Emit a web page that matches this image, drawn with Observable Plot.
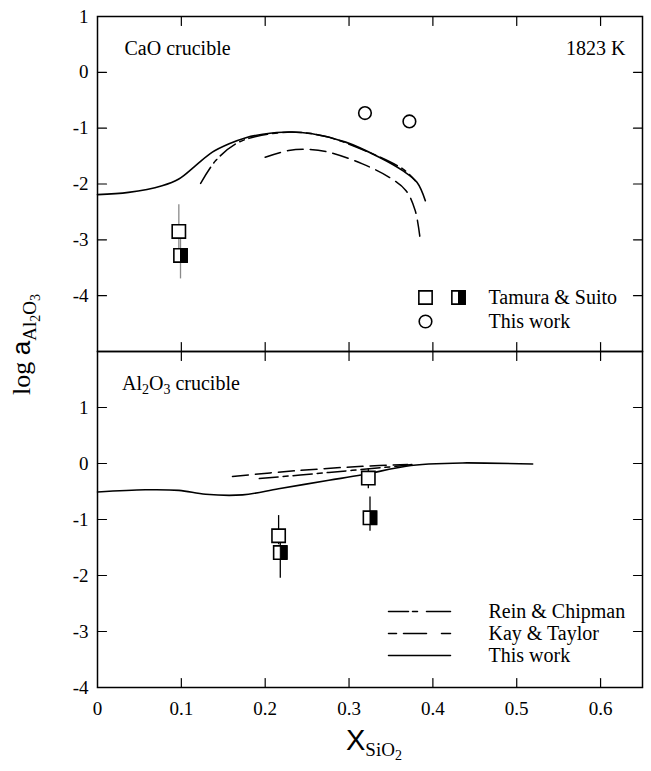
<!DOCTYPE html>
<html><head><meta charset="utf-8">
<script src="https://cdn.jsdelivr.net/npm/d3@7"></script>
<script src="https://cdn.jsdelivr.net/npm/@observablehq/plot@0.6"></script>
<style>
body{margin:0;background:#fff;}
#wrap{position:relative;width:651px;height:771px;overflow:hidden;background:#fff;font-family:'Liberation Serif','Times New Roman',serif;color:#000;}
#top,#bot{position:absolute;left:0;}
#top{top:0;}
#bot{top:351px;}
.ann{position:absolute;white-space:nowrap;line-height:1;}
#ylab{left:8px;top:395px;transform-origin:0 0;transform:rotate(-90deg);font-size:26px;}
#ylab .a{font-family:Arial,'Liberation Sans',sans-serif;font-size:26px;}
#ylab .s{font-size:19px;position:relative;top:6px;}
#ylab .d{font-size:14px;position:relative;top:4px;}
#xlab{left:346px;top:726px;font-size:19px;}
#xlab .X{font-family:Arial,'Liberation Sans',sans-serif;font-size:29px;}
#xlab .s{position:relative;top:6px;}
#xlab .d{font-size:14px;position:relative;top:4px;}
#altxt{left:122px;top:373px;font-size:20px;}
#altxt .d{font-size:14px;position:relative;top:4px;}
</style></head><body>
<div id="wrap">
<div id="top"></div><div id="bot"></div>
<div id="ylab" class="ann">log <span class="a">a</span><span class="s">Al<span class="d">2</span>O<span class="d">3</span></span></div>
<div id="xlab" class="ann"><span class="X">X</span><span class="s">SiO<span class="d">2</span></span></div>
<div id="altxt" class="ann">Al<span class="d">2</span>O<span class="d">3</span> crucible</div>
</div>
<script>
const xTicks = [0, 0.1, 0.2, 0.3, 0.4, 0.5, 0.6];
const yTickLabels = [1, 0, -1, -2, -3, -4];
const topYGrid = [1, 0, -1, -2, -3, -4, -5];
const botYGrid = [2, 1, 0, -1, -2, -3, -4];

// ---- CaO crucible (top) ----
const caoModelX = [0, 0.037, 0.077, 0.097, 0.117, 0.137, 0.157, 0.177, 0.197, 0.228, 0.256, 0.296, 0.336, 0.364, 0.381, 0.391];
const caoModelY = [-2.19, -2.15, -2.03, -1.91, -1.67, -1.43, -1.28, -1.17, -1.11, -1.07, -1.10, -1.25, -1.52, -1.76, -1.97, -2.30];
const caoReinX = [0.123, 0.141, 0.165, 0.189, 0.232, 0.27, 0.304, 0.364, 0.379];
const caoReinY = [-1.99, -1.58, -1.28, -1.15, -1.07, -1.14, -1.31, -1.73, -1.94];
const caoKayX = [0.200, 0.228, 0.252, 0.276, 0.316, 0.348, 0.368, 0.379, 0.385];
const caoKayY = [-1.52, -1.40, -1.38, -1.43, -1.64, -1.88, -2.12, -2.48, -3.01];
const caoThisWorkX = [0.319, 0.372];
const caoThisWorkY = [-0.73, -0.88];
const caoTSX = [0.097, 0.099];
const caoTSY = [-2.85, -3.28];
const caoTSHi = [-2.37, -2.95];
const caoTSLo = [-3.25, -3.70];
const caoTSKind = ["open", "half"];

// ---- Al2O3 crucible (bottom) ----
const alModelX = [0, 0.057, 0.097, 0.129, 0.173, 0.216, 0.276, 0.316, 0.368, 0.395, 0.435, 0.519];
const alModelY = [-0.51, -0.47, -0.48, -0.55, -0.56, -0.45, -0.30, -0.20, -0.05, -0.01, 0.01, -0.01];
const alKayX = [0.161, 0.236, 0.316, 0.37];
const alKayY = [-0.23, -0.13, -0.05, -0.02];
const alReinX = [0.193, 0.276, 0.356, 0.375];
const alReinY = [-0.27, -0.16, -0.05, -0.02];
const alTSX = [0.216, 0.218, 0.323, 0.325];
const alTSY = [-1.29, -1.59, -0.26, -0.97];
const alTSHi = [-0.93, -1.35, -0.10, -0.60];
const alTSLo = [-1.45, -2.05, -0.45, -1.21];
const alTSKind = ["open", "half", "open", "half"];

const FONT = "'Liberation Serif','Times New Roman',serif";
const pts = (xs, ys) => xs.map((x, i) => ({x, y: ys[i]}));
const tsRows = (xs, ys, hi, lo, kind) => xs.map((x, i) => ({x, y: ys[i], hi: hi[i], lo: lo[i], kind: kind[i]}));

const lineShape = {draw(ctx, l) { ctx.moveTo(0, 0); ctx.lineTo(0, -l); }};
const rightHalf = {draw(ctx, size) { const w = Math.sqrt(size) / 2; ctx.moveTo(0, -w); ctx.lineTo(w, -w); ctx.lineTo(w, w); ctx.lineTo(0, w); ctx.closePath(); }};
const SQ_R = 7.5;
const DASHDOT = "19,5,5,5";
const DASH = "16,7";

function frameTicks(xd, yd, yGrid) {
  const c = {length: 9, anchor: "start", shape: lineShape, stroke: "black", strokeWidth: 1.2};
  const xt = xTicks.filter(d => d > xd[0]);
  return [
    Plot.vector(xt, {x: d => d, y: yd[0], rotate: 0, ...c}),
    Plot.vector(xt, {x: d => d, y: yd[1], rotate: 180, ...c}),
    Plot.vector(yGrid, {x: xd[0], y: d => d, rotate: 90, ...c}),
    Plot.vector(yGrid, {x: xd[1], y: d => d, rotate: 270, ...c})
  ];
}
function tsMarks(rows, barColor) {
  return [
    Plot.ruleX(rows, {x: "x", y1: "hi", y2: "lo", stroke: barColor, strokeWidth: 1.3}),
    Plot.dot(rows, {x: "x", y: "y", symbol: "square", r: SQ_R, fill: "white", stroke: "black", strokeWidth: 1.6}),
    Plot.dot(rows.filter(d => d.kind === "half"), {x: "x", y: "y", symbol: rightHalf, r: SQ_R, fill: "black", stroke: "black", strokeWidth: 1})
  ];
}
const legText = (s, dx, dy) => Plot.text([s], {text: d => d, frameAnchor: "top-left", dx, dy, textAnchor: "start", lineAnchor: "middle", fontSize: 20});
const legLine = (dash, dx, dy) => Plot.vector([0], {frameAnchor: "top-left", dx, dy, rotate: 90, length: 62, anchor: "start", shape: lineShape, stroke: "black", strokeWidth: 1.5, strokeDasharray: dash});

const xDomain = [0, 0.65];
const topY = [-5, 1];
const botY = [-4, 2];
const fmt = d => String(d);

const topPlot = Plot.plot({
  width: 651, height: 351,
  marginLeft: 97, marginRight: 9, marginTop: 16, marginBottom: 0,
  style: {fontFamily: FONT, fontSize: "19px", overflow: "visible", background: "transparent"},
  x: {domain: xDomain},
  y: {domain: topY},
  marks: [
    Plot.axisY(yTickLabels, {tickSize: 0, tickPadding: 9, tickFormat: fmt, label: null}),
    Plot.axisX([], {label: null}),
    Plot.line(pts(caoModelX, caoModelY), {x: "x", y: "y", curve: "catmull-rom", stroke: "black", strokeWidth: 1.6}),
    Plot.line(pts(caoReinX, caoReinY), {x: "x", y: "y", curve: "catmull-rom", stroke: "black", strokeWidth: 1.5, strokeDasharray: DASHDOT}),
    Plot.line(pts(caoKayX, caoKayY), {x: "x", y: "y", curve: "catmull-rom", stroke: "black", strokeWidth: 1.5, strokeDasharray: DASH}),
    Plot.dot(pts(caoThisWorkX, caoThisWorkY), {x: "x", y: "y", r: 6.3, fill: "white", stroke: "black", strokeWidth: 1.6}),
    ...tsMarks(tsRows(caoTSX, caoTSY, caoTSHi, caoTSLo, caoTSKind), "#8a8a8a"),
    Plot.text(["CaO crucible"], {text: d => d, frameAnchor: "top-left", dx: 27, dy: 32, textAnchor: "start", lineAnchor: "middle", fontSize: 20}),
    Plot.text(["1823 K"], {text: d => d, frameAnchor: "top-right", dx: -17, dy: 32, textAnchor: "end", lineAnchor: "middle", fontSize: 20}),
    Plot.dot([0], {frameAnchor: "top-left", dx: 328, dy: 281, symbol: "square", r: SQ_R, fill: "white", stroke: "black", strokeWidth: 1.6}),
    Plot.dot([0], {frameAnchor: "top-left", dx: 361, dy: 281, symbol: "square", r: SQ_R, fill: "white", stroke: "black", strokeWidth: 1.6}),
    Plot.dot([0], {frameAnchor: "top-left", dx: 361, dy: 281, symbol: rightHalf, r: SQ_R, fill: "black", stroke: "black", strokeWidth: 1}),
    Plot.dot([0], {frameAnchor: "top-left", dx: 328, dy: 305, r: 6.3, fill: "white", stroke: "black", strokeWidth: 1.6}),
    legText("Tamura & Suito", 391, 281),
    legText("This work", 391, 305),
    ...frameTicks(xDomain, topY, topYGrid),
    Plot.frame({stroke: "black", strokeWidth: 1.5})
  ]
});

const botPlot = Plot.plot({
  width: 651, height: 420,
  marginLeft: 97, marginRight: 9, marginTop: 0, marginBottom: 84,
  style: {fontFamily: FONT, fontSize: "19px", overflow: "visible", background: "transparent"},
  x: {domain: xDomain},
  y: {domain: botY},
  marks: [
    Plot.axisY(yTickLabels, {tickSize: 0, tickPadding: 9, tickFormat: fmt, label: null}),
    Plot.axisX(xTicks, {tickSize: 0, tickPadding: 14, tickFormat: fmt, label: null}),
    Plot.line(pts(alModelX, alModelY), {x: "x", y: "y", curve: "catmull-rom", stroke: "black", strokeWidth: 1.6}),
    Plot.line(pts(alReinX, alReinY), {x: "x", y: "y", curve: "catmull-rom", stroke: "black", strokeWidth: 1.5, strokeDasharray: DASHDOT}),
    Plot.line(pts(alKayX, alKayY), {x: "x", y: "y", curve: "catmull-rom", stroke: "black", strokeWidth: 1.5, strokeDasharray: DASH}),
    ...tsMarks(tsRows(alTSX, alTSY, alTSHi, alTSLo, alTSKind), "black"),
    legLine("20,4,5,9,24", 291, 260),
    legLine("8,7,23,15,9", 291, 282),
    legLine(null, 291, 304),
    legText("Rein & Chipman", 391, 260),
    legText("Kay & Taylor", 391, 282),
    legText("This work", 391, 304),
    ...frameTicks(xDomain, botY, botYGrid),
    Plot.frame({stroke: "black", strokeWidth: 1.5})
  ]
});

document.getElementById("top").appendChild(topPlot);
document.getElementById("bot").appendChild(botPlot);
</script>
</body></html>
